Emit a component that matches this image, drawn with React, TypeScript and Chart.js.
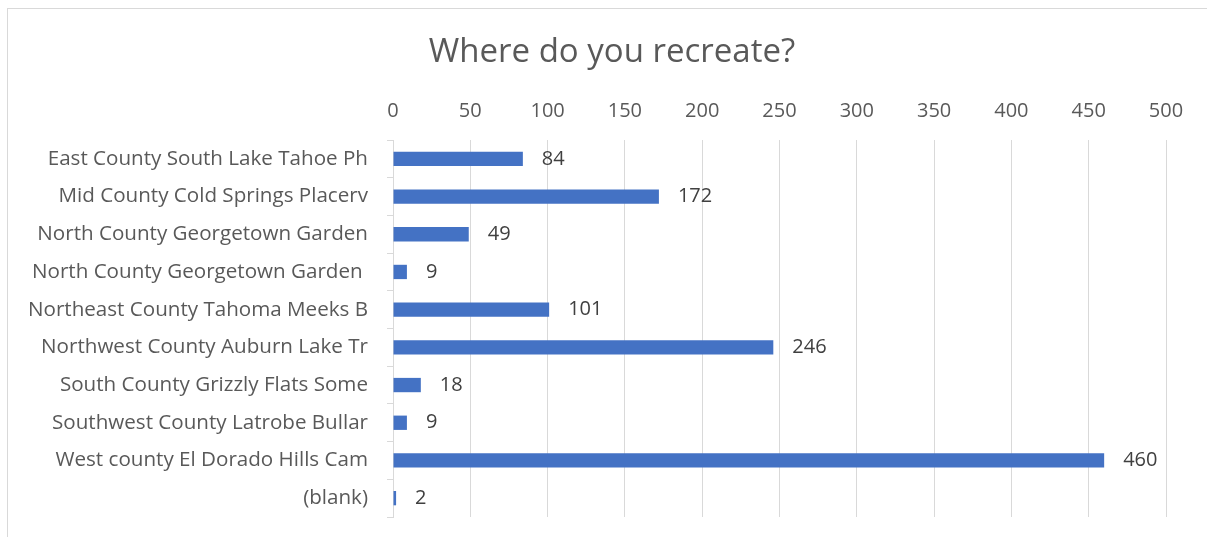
import React, { useEffect, useRef } from "react";
import { Chart, registerables } from "chart.js";

Chart.register(...registerables);

const categories: string[] = [
  "East County South Lake Tahoe Ph",
  "Mid County Cold Springs Placerv",
  "North County Georgetown Garden",
  "North County Georgetown Garden ",
  "Northeast County Tahoma Meeks B",
  "Northwest County Auburn Lake Tr",
  "South County Grizzly Flats Some",
  "Southwest County Latrobe Bullar",
  "West county El Dorado Hills Cam",
  "(blank)",
];
const counts: number[] = [84, 172, 49, 9, 101, 246, 18, 9, 460, 2];
const titleText = "Where do you recreate?";
const xMin = 0;
const xMax = 500;
const xStep = 50;

const FONT = "'Open Sans', sans-serif";

const titlePlugin = {
  id: "centeredTitle",
  afterDraw(chart: any) {
    const ctx = chart.ctx;
    ctx.save();
    ctx.font = `33px ${FONT}`;
    ctx.fillStyle = "#595959";
    ctx.textAlign = "center";
    ctx.textBaseline = "middle";
    ctx.fillText(titleText, 604, 44);
    ctx.restore();
  },
};

const dataLabelPlugin = {
  id: "dataLabels",
  afterDatasetsDraw(chart: any) {
    const ctx = chart.ctx;
    const meta = chart.getDatasetMeta(0);
    ctx.save();
    ctx.font = `20px ${FONT}`;
    ctx.fillStyle = "#404040";
    ctx.textAlign = "left";
    ctx.textBaseline = "middle";
    meta.data.forEach((el: any, i: number) => {
      ctx.fillText(String(chart.data.datasets[0].data[i]), el.x + 19, el.y);
    });
    ctx.restore();
  },
};

export default function App() {
  const canvasRef = useRef<HTMLCanvasElement | null>(null);

  useEffect(() => {
    if (!canvasRef.current) return;
    const chart = new Chart(canvasRef.current, {
      type: "bar",
      data: {
        labels: categories,
        datasets: [
          {
            data: counts,
            backgroundColor: "#4472C4",
            borderWidth: 0,
            barPercentage: 0.38,
            categoryPercentage: 1,
          },
        ],
      },
      options: {
        indexAxis: "y",
        animation: false,
        responsive: true,
        maintainAspectRatio: false,
        layout: { padding: { left: 0, right: 41, top: 0, bottom: 20 } },
        plugins: {
          legend: { display: false },
          tooltip: { enabled: false },
          title: { display: false },
        },
        scales: {
          x: {
            type: "linear",
            position: "top",
            min: xMin,
            max: xMax,
            ticks: {
              stepSize: xStep,
              color: "#595959",
              font: { family: FONT, size: 20 },
              padding: 17,
            },
            grid: { color: "#d9d9d9", drawTicks: false, lineWidth: 1 },
            border: { display: false },
            afterFit(scale: any) {
              scale.height = 131;
              scale.paddingLeft = 0;
              scale.paddingRight = 0;
            },
          },
          y: {
            ticks: {
              color: "#595959",
              font: { family: FONT, size: 20.6 },
              padding: 19,
            },
            grid: {
              offset: true,
              drawOnChartArea: false,
              tickLength: 6,
              color: "#d9d9d9",
            },
            border: { display: true, color: "#d9d9d9" },
            afterFit(scale: any) {
              scale.width = 385;
              scale.paddingTop = 0;
              scale.paddingBottom = 0;
            },
          },
        },
      },
      plugins: [dataLabelPlugin, titlePlugin],
    });
    return () => chart.destroy();
  }, []);

  return (
    <div
      style={{
        position: "absolute",
        left: 7,
        top: 8,
        width: 1200,
        height: 529,
        boxSizing: "border-box",
        borderTop: "1px solid #d9d9d9",
        borderLeft: "1px solid #d9d9d9",
        background: "#fff",
      }}
    >
      <div style={{ position: "relative", width: 1199, height: 528 }}>
        <canvas ref={canvasRef} />
      </div>
    </div>
  );
}
